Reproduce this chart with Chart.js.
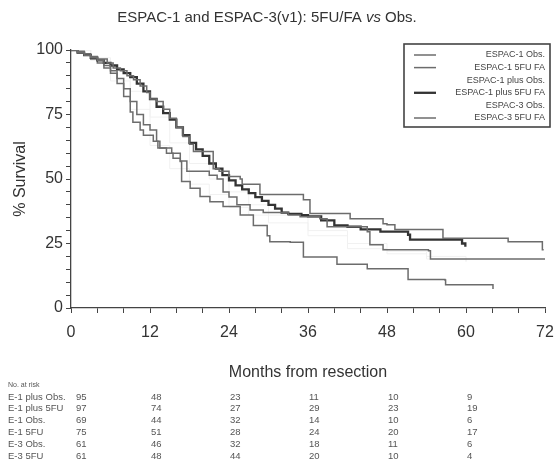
<!DOCTYPE html>
<html>
<head>
<meta charset="utf-8">
<script src="https://cdn.jsdelivr.net/npm/chart.js@4"></script>
<style>
  body { margin: 0; background: #fff; }
  #wrap { width: 555px; height: 467px; }
</style>
</head>
<body>
<div id="wrap"><canvas id="km" width="555" height="467"></canvas></div>
<script>
// Kaplan-Meier steps: [month, % surviving]
const e1Obs = [[0,100],[1,99],[2,98],[3,97],[4,96],[5,94],[6,92],[7,89],[8,85],[9,80],[10,75],[11,71],[12,69],[13,64.6],[13.2,62],[15.3,60],[16.6,57],[17.6,53],[21,51.5],[22.2,50],[23.1,45],[24,43],[25.2,40],[27.2,38],[29.2,37],[33,36],[34.8,35.4],[37.8,34.6],[38.9,31.5],[45,29.6],[45.4,24.5],[47.4,22.6],[54.3,22.2],[54.6,19],[72,19]];
const e15fu = [[0,100],[1,99.5],[2,98.5],[3,97.5],[4,96.5],[5.5,95],[6.4,93],[7.5,92],[8.5,90],[9.5,88.5],[10.5,86],[11.5,83.5],[12,81],[13,80],[14,77],[15,73.5],[16,70],[17,66.5],[18,63.5],[18.6,60.7],[21.6,54],[22.5,53],[24,51],[25.7,50],[26,48],[28.7,44],[35.3,42],[36.3,36.6],[42.4,34.6],[47.4,32.7],[48,32.3],[49.2,30.4],[55,30.4],[56.5,27],[66.3,27],[66.4,25.7],[70.8,25.7],[71.6,22.6],[71.8,22.6]];
const e1plusObs = [[0,100],[3,96],[6,88],[9,77],[12,63],[15,54],[18,48],[21,44],[24,39],[27,36],[30,33],[36,28],[42,23],[48,21],[54,19],[60,18]];
const e1plus5fu = [[0,100],[1,99],[2,98],[3,97],[4,96],[5,95],[6,94],[7,92.5],[8,91],[9,89.5],[10,87],[11,84],[12,81],[13,78],[14,75.5],[15,73],[16,70],[17,67],[18,64],[19,61.5],[20,59],[21,56],[22,54],[23,51.5],[24,49.5],[25,47.5],[26,46],[27,44.5],[28,43],[29,41.5],[30,40],[31,38.5],[32,37],[33,36.5],[35,36],[36,35.5],[38,34],[40,32],[42,31.5],[44,30.5],[47,29.6],[51.2,28.4],[51.5,26.5],[59,26.5],[59.4,25],[59.9,23.7]];
const e3Obs = [[0,100],[3,97],[6,92],[9,84],[12,74],[15,64],[18,56],[21,50],[24,45],[27,40],[30,36],[36,30],[42,25],[48,22],[54,20],[60,18]];
const e35fu = [[0,100],[1,99],[2,98],[3,96.5],[4,95],[5,93],[6,91],[7,87],[8,82],[9,76],[9.4,72],[10.5,69],[11,67],[12.5,64.6],[13.5,62],[14.5,60],[15.5,58],[16.6,56.8],[16.8,49],[18.1,46.4],[19.6,43.2],[21.1,41.2],[23.1,39.3],[25.7,36],[27.7,32],[29.8,28],[30.2,25.7],[33.3,25.5],[35.3,19.8],[38.9,19.8],[40.4,17],[45,15.2],[49.5,15.2],[51.2,11],[56.8,10.9],[56.9,9],[64,9],[64.1,7.4]];

const seriesNames = ["ESPAC-1 Obs.", "ESPAC-1 5FU FA", "ESPAC-1 plus Obs.", "ESPAC-1 plus 5FU FA", "ESPAC-3 Obs.", "ESPAC-3 5FU FA"];
const seriesData = [e1Obs, e15fu, e1plusObs, e1plus5fu, e3Obs, e35fu];
const FAINT = "#f1f1f1";
const seriesColors = ["#6c6c6c", "#6c6c6c", FAINT, "#333333", FAINT, "#6c6c6c"];
const seriesWidths = [1.5, 1.5, 1, 2.3, 1, 1.5];

// number at risk table
const riskTimes = [0, 12, 24, 36, 48, 60];
const riskLabels = ["E-1 plus Obs.", "E-1 plus 5FU", "E-1 Obs.", "E-1 5FU", "E-3 Obs.", "E-3 5FU"];
const riskE1plusObs = [95, 48, 23, 11, 10, 9];
const riskE1plus5fu = [97, 74, 27, 29, 23, 19];
const riskE1Obs = [69, 44, 32, 14, 10, 6];
const riskE15fu = [75, 51, 28, 24, 20, 17];
const riskE3Obs = [61, 46, 32, 18, 11, 6];
const riskE35fu = [61, 48, 44, 20, 10, 4];
const riskRows = [riskE1plusObs, riskE1plus5fu, riskE1Obs, riskE15fu, riskE3Obs, riskE35fu];

const FONT = "'Liberation Sans', Arial, sans-serif";

const extras = {
  id: "extras",
  afterDraw(chart) {
    const c = chart.ctx;
    const xs = chart.scales.x;
    const area = chart.chartArea;
    c.save();
    c.fillStyle = "#333";
    c.textBaseline = "middle";

    // title with italic "vs"
    const p1 = "ESPAC-1 and ESPAC-3(v1): 5FU/FA ", p2 = "vs", p3 = " Obs.";
    c.font = "15px " + FONT;
    const w1 = c.measureText(p1).width, w3 = c.measureText(p3).width;
    c.font = "italic 15px " + FONT;
    const w2 = c.measureText(p2).width;
    let tx = 267 - (w1 + w2 + w3) / 2;
    c.textAlign = "left";
    c.font = "15px " + FONT; c.fillText(p1, tx, 18); tx += w1;
    c.font = "italic 15px " + FONT; c.fillText(p2, tx, 18); tx += w2;
    c.font = "15px " + FONT; c.fillText(p3, tx, 18);

    // axis titles
    c.font = "16px " + FONT;
    c.textAlign = "center";
    c.fillText("Months from resection", (area.left + area.right) / 2, 373);
    c.save();
    c.translate(21, (area.top + area.bottom) / 2);
    c.rotate(-Math.PI / 2);
    c.fillText("% Survival", 0, 0);
    c.restore();

    // legend box
    c.strokeStyle = "#444";
    c.lineWidth = 1.6;
    c.strokeRect(404, 44, 146, 83);
    c.font = "9px " + FONT;
    c.textAlign = "right";
    seriesNames.forEach((name, i) => {
      const y = 55 + i * 12.6;
      c.fillStyle = "#444";
      c.fillText(name, 545, y);
      if (seriesColors[i] !== FAINT) {
        c.strokeStyle = seriesColors[i];
        c.lineWidth = seriesWidths[i];
        c.beginPath(); c.moveTo(414, y); c.lineTo(436, y); c.stroke();
      }
    });

    // number at risk
    c.fillStyle = "#555";
    c.textAlign = "left";
    c.font = "7px " + FONT;
    c.fillText("No. at risk", 8, 385);
    c.font = "9.5px " + FONT;
    riskLabels.forEach((lab, r) => {
      const y = 397 + r * 11.8;
      c.fillText(lab, 8, y);
      riskRows[r].forEach((n, k) => {
        const px = xs.getPixelForValue(riskTimes[k]) + (k === 0 ? 5 : 1);
        c.fillText(String(n), px, y);
      });
    });
    c.restore();
  }
};

new Chart(document.getElementById("km"), {
  type: "line",
  data: {
    datasets: seriesData.map((pts, i) => ({
      label: seriesNames[i],
      data: pts.map(p => ({ x: p[0], y: p[1] })),
      stepped: "before",
      borderColor: seriesColors[i],
      borderWidth: seriesWidths[i],
      pointRadius: 0,
      fill: false,
      order: seriesColors[i] === FAINT ? 10 : i
    }))
  },
  options: {
    responsive: false,
    animation: false,
    layout: { padding: { top: 50, right: 10, left: 0, bottom: 0 } },
    plugins: { legend: { display: false }, tooltip: { enabled: false }, title: { display: false } },
    scales: {
      x: {
        type: "linear",
        min: 0, max: 72,
        afterFit: s => { s.height = 159; s.paddingLeft = 0; s.paddingRight = 0; },
        border: { display: true, color: "#444", width: 1.3 },
        grid: { drawOnChartArea: false, drawTicks: true, tickLength: 5, color: "#444" },
        ticks: {
          stepSize: 4, autoSkip: false, maxRotation: 0, padding: 10,
          color: "#333", font: { size: 16, family: FONT },
          callback: v => (v % 12 === 0 ? v : "")
        }
      },
      y: {
        min: 0, max: 100,
        afterFit: s => { s.width = 71; s.paddingTop = 0; s.paddingBottom = 0; },
        border: { display: true, color: "#444", width: 1.3 },
        grid: { drawOnChartArea: false, drawTicks: true, tickLength: 5, color: "#444" },
        ticks: {
          stepSize: 5, autoSkip: false, padding: 3,
          color: "#333", font: { size: 16, family: FONT },
          callback: v => (v % 25 === 0 ? v : "")
        }
      }
    }
  },
  plugins: [extras]
});
</script>
</body>
</html>
